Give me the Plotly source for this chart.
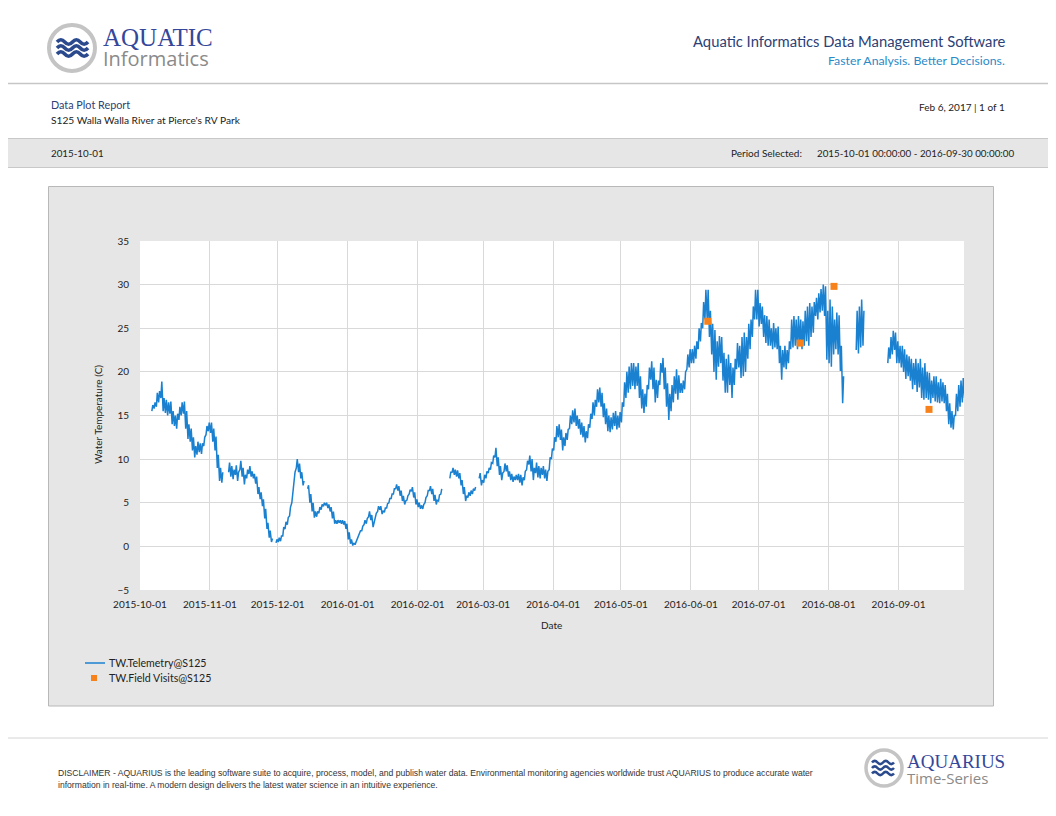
import pandas as pd
import plotly.graph_objects as go

# the page puts the plot 8px in from the top-left corner, so the figure is
# 8px smaller and everything below is laid out in page pixels
OX, OY = 8, 8
W, H = 1056 - OX, 816 - OY

# daily low / high water temperature (C), 2015-10-01 .. 2016-09-30
temp_low = [
    # Oct
    None, None, None, None, None, 15.5, 15.8, 16.0, 16.5, 17.0, 15.5, 15.3, 15.0, 15.2, 14.0, 13.8,
    13.5, 14.5, 15.0, 15.2, 13.5, 12.3, 12.0, 11.0, 10.2, 10.5, 10.8, 10.6, 11.5, 12.8, 13.2,
    # Nov
    13.0, 12.0, 11.0, 9.0, 7.5, 7.3, None, None, 8.5, 8.0, 7.7, 8.2, 7.5, 8.8, 8.0,
    7.1, 7.8, 8.3, 8.0, 7.8, 7.2, 6.0, 5.4, 4.6, 3.2, 2.0, 1.0, 0.5, None, 0.4,
    # Dec
    0.5, 0.6, 1.2, 2.0, 2.5, 3.5, 5.0, 7.0, 9.0, 8.5, 7.8, 7.0, None, 6.6, 5.0, 4.0,
    3.3, 3.4, 3.8, 4.2, 4.6, 4.7, 4.4, 4.0, 3.2, 2.6, 2.6, 2.7, 2.6, 2.5, 2.0,
    # Jan
    0.8, 0.3, 0.1, 0.2, 0.8, 1.4, 1.8, 2.5, 2.6, 3.4, 3.0, 2.2, 3.2, 4.0, 4.2, 3.7,
    3.9, 4.4, 5.0, 5.5, 6.0, 6.6, 6.4, 5.8, 5.2, 4.8, 5.3, 6.0, 6.3, 5.6, 4.8,
    # Feb
    4.5, 4.3, 4.3, 5.0, 5.8, 6.4, 6.0, 5.2, 4.8, 5.2, 6.0, None, None, None, 7.8,
    8.5, 8.2, 8.0, 7.8, 7.0, 6.0, 5.2, 5.6, 5.8, 6.0, 6.4, None, 7.8, 7.0,
    # Mar
    7.3, 7.8, 8.4, 8.8, 9.5, 10.2, 9.2, 8.2, 7.6, 8.6, 8.6, 8.0, 7.6, 7.4, 7.6, 7.6,
    7.3, 7.0, 7.6, 8.8, 9.4, 8.6, 7.6, 8.4, 7.9, 7.8, 8.2, 7.8, 7.5, 8.8, 10.0,
    # Apr
    11.0, 12.0, 12.5, 12.2, 11.0, 11.5, 12.2, 13.5, 14.0, 14.2, 13.8, 13.5, 12.8, 12.5, 11.9,
    12.4, 13.6, 14.6, 15.0, 16.0, 16.5, 16.0, 14.8, 14.0, 13.2, 13.1, 13.4, 13.8, 13.4, 13.6,
    # May
    14.2, 16.0, 17.0, 17.6, 18.0, 18.4, 18.0, 18.4, 17.0, 15.8, 15.3, 16.0, 18.0, 19.1, 18.0, 16.5,
    17.0, 18.5, 19.9, 18.0, 16.0, 14.5, 15.5, 16.5, 17.5, 16.8, 17.6, 17.6, 18.0, 20.3, 20.5,
    # Jun
    21.0, 21.0, 21.5, 22.6, 23.5, 25.0, 26.0, 26.0, 24.0, 22.0, 20.0, 19.1, 20.6, 21.0, 19.0,
    17.6, 17.6, 18.5, 17.0, 18.5, 20.3, 20.5, 19.3, 19.5, 20.0, 21.5, 22.6, 24.0, 26.0, 26.0,
    # Jul
    25.2, 25.5, 24.0, 23.3, 23.0, 23.0, 22.6, 22.8, 22.6, 21.0, 19.1, 20.5, 20.3, 21.0, 22.6, 22.8,
    23.0, 22.6, 23.0, 22.6, 23.0, 23.5, 23.0, 24.0, 24.5, 26.4, 26.0, 26.8, 27.0, 26.4, 21.4,
    # Aug
    21.0, 20.6, 22.0, 22.6, 22.0, 20.1, 16.4, None, None, None, None, None, 22.5, 22.1, 22.8, 23.0,
    None, None, None, None, None, None, None, None, None, None, 21.0, 21.5, 22.0, 22.5, 21.0,
    # Sep
    21.0, 20.5, 20.0, 19.2, 19.5, 19.0, 18.0, 18.5, 17.7, 18.2, 17.0, 16.8, 17.0, 16.8, 16.4,
    17.0, 16.6, 16.5, 16.4, 16.6, 16.4, 15.5, 14.0, 13.6, 13.4, 15.0, 15.5, 16.0, 16.5, 17.0,
]

temp_high = [
    # Oct
    None, None, None, None, None, 16.2, 16.5, 17.6, 17.8, 18.9, 17.0, 16.8, 16.5, 16.6, 15.5, 15.0,
    15.2, 16.0, 16.5, 16.6, 15.5, 14.0, 13.5, 12.5, 11.5, 12.0, 11.8, 11.8, 12.5, 13.8, 14.2,
    # Nov
    14.2, 13.5, 12.6, 10.5, 9.0, 8.5, None, None, 9.6, 9.2, 8.8, 9.3, 8.5, 9.8, 9.0,
    8.2, 8.8, 9.2, 8.6, 8.3, 8.0, 6.8, 6.2, 5.4, 4.3, 2.7, 1.8, 0.9, None, 0.8,
    # Dec
    1.0, 1.2, 2.2, 2.8, 3.3, 4.5, 6.0, 8.5, 10.0, 9.5, 8.5, 7.5, None, 7.0, 6.0, 5.0,
    4.0, 4.0, 4.5, 4.8, 5.0, 5.0, 4.8, 4.5, 4.0, 3.0, 3.0, 3.0, 3.0, 2.9, 2.6,
    # Jan
    1.6, 0.8, 0.4, 0.5, 1.2, 1.8, 2.3, 3.0, 3.2, 4.0, 3.6, 2.8, 3.8, 4.6, 4.6, 4.1,
    4.4, 4.9, 5.5, 6.0, 6.6, 7.1, 6.9, 6.4, 5.8, 5.2, 5.8, 6.5, 6.8, 6.2, 5.4,
    # Feb
    5.0, 4.7, 4.8, 5.6, 6.4, 6.9, 6.6, 5.9, 5.3, 5.9, 6.6, None, None, None, 8.5,
    9.0, 8.8, 8.7, 8.4, 7.6, 6.8, 5.8, 6.2, 6.4, 6.6, 6.8, None, 8.4, 7.6,
    # Mar
    8.2, 8.6, 9.0, 9.6, 10.4, 11.3, 10.2, 9.2, 8.4, 9.5, 9.3, 8.6, 8.3, 8.0, 8.2, 8.3,
    8.2, 7.9, 8.6, 9.8, 10.4, 10.0, 9.0, 9.6, 9.2, 9.0, 9.2, 8.8, 8.6, 10.2, 11.2,
    # Apr
    12.5, 13.8, 14.0, 13.4, 12.5, 13.0, 13.4, 15.0, 15.6, 15.8, 15.0, 14.6, 14.2, 13.8, 13.2,
    14.0, 15.2, 16.5, 16.8, 18.0, 18.2, 17.6, 16.4, 15.8, 15.0, 14.8, 15.3, 15.5, 15.0, 15.4,
    # May
    16.5, 18.8, 20.0, 20.6, 21.0, 21.0, 20.6, 21.0, 19.5, 18.0, 17.5, 18.5, 20.5, 21.2, 20.5, 19.1,
    19.0, 21.0, 21.6, 20.5, 18.7, 17.5, 18.5, 19.5, 20.3, 19.6, 18.7, 19.0, 20.0, 22.0, 22.6,
    # Jun
    22.6, 23.0, 23.5, 25.0, 25.6, 28.0, 29.4, 29.4, 27.0, 25.5, 24.8, 23.5, 24.1, 24.0, 22.2,
    21.5, 22.0, 21.0, 20.5, 21.5, 23.3, 23.0, 24.0, 24.5, 24.0, 25.5, 26.0, 27.5, 29.4, 29.4,
    # Jul
    27.9, 27.5, 26.5, 26.4, 26.0, 25.0, 25.6, 25.0, 25.2, 23.0, 22.5, 23.0, 22.5, 23.5, 26.0, 26.4,
    26.0, 26.4, 26.0, 25.8, 27.0, 27.5, 27.9, 27.5, 28.0, 28.5, 29.0, 29.5, 30.0, 29.8, 27.0,
    # Aug
    28.3, 27.5, 26.0, 26.8, 26.5, 23.0, 19.5, None, None, None, None, None, 27.0, 27.5, 28.3, 27.0,
    None, None, None, None, None, None, None, None, None, None, 22.8, 24.0, 24.7, 24.5, 23.5,
    # Sep
    23.0, 23.0, 22.6, 22.0, 21.8, 21.5, 21.0, 21.5, 21.0, 21.5, 20.5, 21.0, 20.0, 19.9, 19.0,
    19.5, 19.5, 18.8, 19.2, 18.8, 18.5, 17.5, 16.4, 15.5, 15.0, 17.5, 18.5, 19.0, 19.3, 19.5,
]

visit_dates = ["2016-06-08 12:00", "2016-07-19 10:00", "2016-08-03 10:00", "2016-09-14 12:00"]
visit_values = [25.8, 23.3, 29.8, 15.7]

month_ticks = pd.date_range("2015-10-01", "2016-09-01", freq="MS")

LINE_COL = "#1a80d0"
VISIT_COL = "#f7821b"
NAVY = "#2c4176"
LOGO_BLUE = "#34479a"
FONT = "Lato"


def px(x):
    return (x - OX) / W


def py(y):
    return 1 - (y - OY) / H


def wave(x0, y, length, amp):
    # little squiggle for the logos, path in paper coords
    step = length / 4
    pts = "M%f,%f Q%f,%f %f,%f" % (px(x0), py(y), px(x0 + step / 2), py(y - 2 * amp), px(x0 + step), py(y))
    for k in range(2, 5):
        pts += " T%f,%f" % (px(x0 + k * step), py(y))
    return pts


def box(kind, x0, y0, x1, y1, **kw):
    return dict(type=kind, xref="paper", yref="paper",
                x0=px(x0), x1=px(x1), y0=py(y1), y1=py(y0), **kw)


# one low and one high point per day gives the daily swing
dates = pd.date_range("2015-10-01", periods=len(temp_low), freq="D")
xs, ys = [], []
for d, lo, hi in zip(dates, temp_low, temp_high):
    xs += [d + pd.Timedelta(hours=6), d + pd.Timedelta(hours=16)]
    ys += [lo, hi]

fig = go.Figure()
fig.add_trace(go.Scatter(
    x=xs, y=ys, mode="lines", name="TW.Telemetry@S125",
    line=dict(color=LINE_COL, width=1.5), connectgaps=False,
))
fig.add_trace(go.Scatter(
    x=pd.to_datetime(visit_dates), y=visit_values, mode="markers", name="TW.Field Visits@S125",
    marker=dict(symbol="square", size=7, color=VISIT_COL),
))

shapes = [
    # header / footer rules
    box("line", OX, 83.5, 1056, 83.5, line=dict(color="#c6c6c6", width=1.5)),
    box("rect", OX - 2, 138.5, 1058, 167.5, fillcolor="#e6e6e6", line=dict(color="#c8c8c8", width=1), layer="below"),
    box("line", OX, 738, 1056, 738, line=dict(color="#d4d4d4", width=1)),
    # chart panel + white plot area
    box("rect", 48.5, 186.5, 993.5, 706, fillcolor="#e6e6e6", line=dict(color="#b8b8b8", width=1), layer="below"),
    box("rect", 140, 241, 964, 590, fillcolor="white", line=dict(width=0), layer="below"),
    # logos
    box("circle", 49, 25, 95, 71, fillcolor="white", line=dict(color="#c4c4c4", width=4)),
    box("circle", 866, 750, 902, 786, fillcolor="white", line=dict(color="#c4c4c4", width=3.5)),
    # legend samples
    box("line", 85, 663, 105, 663, line=dict(color=LINE_COL, width=1.5)),
    box("rect", 91, 675, 97, 681, fillcolor=VISIT_COL, line=dict(width=0)),
]
for yy in (42, 48, 54):
    shapes.append(dict(type="path", xref="paper", yref="paper", path=wave(57, yy, 31, 2.2),
                       line=dict(color="#2b4a8e", width=3.5)))
for yy in (762.5, 768, 773.5):
    shapes.append(dict(type="path", xref="paper", yref="paper", path=wave(872, yy, 22, 1.6),
                       line=dict(color="#2b4a8e", width=2.6)))


def txt(x, y, s, size, color="#222222", anchor="left", family=FONT, angle=0):
    return dict(x=px(x), y=py(y), xref="paper", yref="paper", text=s, showarrow=False,
                xanchor=anchor, yanchor="middle", textangle=angle, align=anchor if anchor != "center" else "center",
                font=dict(family=family, size=size, color=color))


def two_line(top, top_size, bottom, bottom_size):
    # logo word marks: serif name over grey sans sub-title
    return ("<span style='font-family:Liberation Serif;font-size:%dpx;color:%s'>%s</span><br>"
            "<span style='font-family:Open Sans;font-size:%dpx;color:#8a8a8a'>%s</span>"
            % (top_size, LOGO_BLUE, top, bottom_size, bottom))


disclaimer1 = ("DISCLAIMER - AQUARIUS is the leading software suite to acquire, process, model, and publish water data. "
               "Environmental monitoring agencies worldwide trust AQUARIUS to produce accurate water")
disclaimer2 = "information in real-time. A modern design delivers the latest water science in an intuitive experience."

annotations = [
    txt(101, 48, two_line("AQUATIC", 25, "Informatics", 20), 15),
    txt(1007, 41, "Aquatic Informatics Data Management Software", 14.8, NAVY, "right"),
    txt(1007, 60, "Faster Analysis. Better Decisions.", 12.3, "#2a8ac8", "right"),
    txt(49, 104, "Data Plot Report", 10.8, NAVY),
    txt(49, 120, "S125 Walla Walla River at Pierce's RV Park", 10.2),
    txt(1007, 107, "Feb 6, 2017 | 1 of 1", 10, anchor="right"),
    txt(49, 153, "2015-10-01", 9.8),
    txt(804, 153, "Period Selected:", 10, anchor="right"),
    txt(1016, 153, "2015-10-01 00:00:00 - 2016-09-30 00:00:00", 9.8, anchor="right"),
    txt(551, 625, "Date", 10, anchor="center"),
    txt(98, 415, "Water Temperature (C)", 10, angle=-90, anchor="center"),
    txt(107, 663, "TW.Telemetry@S125", 10.6),
    txt(107, 678, "TW.Field Visits@S125", 10.6),
    txt(56, 773, disclaimer1, 8.6, "#333333", family="Liberation Sans"),
    txt(56, 785, disclaimer2, 8.6, "#333333", family="Liberation Sans"),
    txt(905, 769, two_line("AQUARIUS", 19, "Time-Series", 15.5), 12.5),
]

fig.update_layout(
    width=W, height=H,
    margin=dict(l=0, r=0, t=0, b=0, pad=0, autoexpand=False),
    paper_bgcolor="white",
    plot_bgcolor="white",
    showlegend=False,
    font=dict(family=FONT, size=10, color="#222222"),
    shapes=shapes,
    annotations=annotations,
    xaxis=dict(
        domain=[px(140), px(964)],
        range=["2015-10-01", "2016-09-30"],
        tickvals=month_ticks, tickformat="%Y-%m-%d",
        showgrid=True, gridcolor="#d9d9d9", gridwidth=1,
        ticks="outside", ticklen=5, tickcolor="rgba(0,0,0,0)",
        zeroline=False, showline=False, automargin=False,
        tickfont=dict(size=10, color="#222222"),
    ),
    yaxis=dict(
        domain=[py(590), py(241)],
        range=[-5, 35], dtick=5,
        showgrid=True, gridcolor="#d9d9d9", gridwidth=1,
        ticks="outside", ticklen=8, tickcolor="rgba(0,0,0,0)",
        zeroline=False, showline=False, automargin=False,
        tickfont=dict(size=10, color="#222222"),
    ),
)

fig.write_html("out.html")
